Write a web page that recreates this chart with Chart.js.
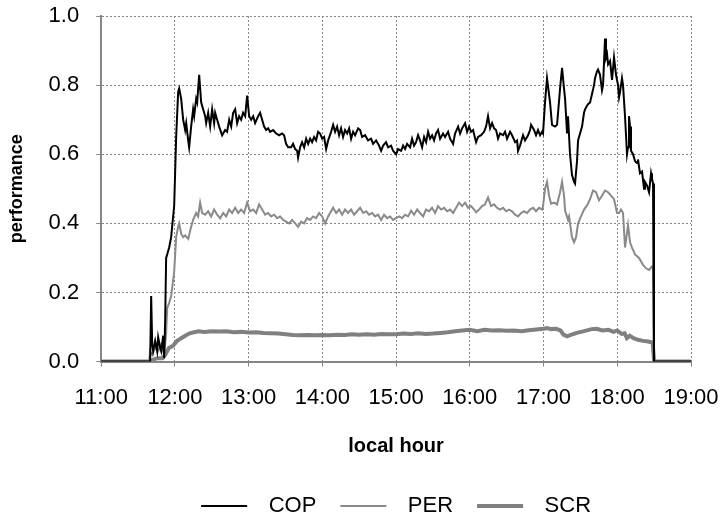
<!DOCTYPE html>
<html>
<head>
<meta charset="utf-8">
<script src="https://cdn.jsdelivr.net/npm/chart.js@4.4.1/dist/chart.umd.min.js"></script>
<style>
  html, body { margin: 0; padding: 0; background: #fff; }
  #wrap { width: 724px; height: 523px; }
</style>
</head>
<body>
<div id="wrap"><canvas id="perfChart"></canvas></div>
<script>
const copHours = [
  11.000, 11.651, 11.664, 11.678, 11.692, 11.705, 11.732, 11.759, 11.773, 11.800, 11.814, 11.841, 11.854, 11.868,
  11.881, 11.895, 11.922, 11.949, 11.976, 11.990, 12.017, 12.044, 12.058, 12.085, 12.112, 12.139, 12.153, 12.180,
  12.193, 12.220, 12.247, 12.261, 12.288, 12.302, 12.329, 12.356, 12.383, 12.410, 12.424, 12.451, 12.478, 12.505,
  12.532, 12.546, 12.573, 12.600, 12.641, 12.681, 12.708, 12.736, 12.763, 12.790, 12.817, 12.844, 12.871, 12.898,
  12.925, 12.953, 12.980, 13.007, 13.034, 13.061, 13.088, 13.129, 13.156, 13.183, 13.210, 13.237, 13.264, 13.292,
  13.332, 13.373, 13.414, 13.454, 13.481, 13.508, 13.536, 13.576, 13.603, 13.631, 13.658, 13.671, 13.698, 13.725,
  13.753, 13.780, 13.807, 13.834, 13.861, 13.888, 13.915, 13.942, 13.969, 13.997, 14.024, 14.051, 14.078, 14.119,
  14.146, 14.173, 14.200, 14.227, 14.254, 14.281, 14.308, 14.336, 14.363, 14.390, 14.417, 14.444, 14.485, 14.512,
  14.539, 14.580, 14.620, 14.661, 14.688, 14.729, 14.769, 14.797, 14.824, 14.864, 14.892, 14.932, 14.959, 15.000,
  15.027, 15.068, 15.095, 15.122, 15.149, 15.190, 15.217, 15.244, 15.271, 15.298, 15.325, 15.353, 15.380, 15.407,
  15.434, 15.461, 15.488, 15.515, 15.542, 15.569, 15.597, 15.637, 15.664, 15.705, 15.732, 15.773, 15.800, 15.841,
  15.868, 15.895, 15.936, 15.963, 15.990, 16.017, 16.044, 16.085, 16.112, 16.153, 16.193, 16.220, 16.247, 16.275,
  16.302, 16.329, 16.356, 16.383, 16.410, 16.451, 16.478, 16.505, 16.546, 16.573, 16.614, 16.641, 16.654, 16.681,
  16.722, 16.749, 16.790, 16.817, 16.831, 16.871, 16.898, 16.925, 16.953, 16.980, 16.993, 17.020, 17.047, 17.088,
  17.115, 17.156, 17.183, 17.197, 17.224, 17.251, 17.278, 17.292, 17.319, 17.332, 17.359, 17.386, 17.414, 17.427,
  17.454, 17.468, 17.495, 17.522, 17.549, 17.563, 17.590, 17.603, 17.631, 17.658, 17.685, 17.698, 17.725, 17.739,
  17.766, 17.793, 17.807, 17.834, 17.847, 17.861, 17.875, 17.902, 17.929, 17.956, 17.983, 18.010, 18.024, 18.037,
  18.064, 18.078, 18.105, 18.132, 18.146, 18.159, 18.173, 18.186, 18.214, 18.241, 18.268, 18.281, 18.308, 18.336,
  18.363, 18.376, 18.403, 18.431, 18.458, 18.471, 18.485, 18.498, 19.000
];
const copValues = [
  0, 0, 0.00, 0.19, 0.05, 0.03, 0.06, 0.03, 0.07, 0.04, 0.03, 0.075, 0.01, 0.12,
  0.30, 0.31, 0.33, 0.36, 0.42, 0.45, 0.65, 0.78, 0.79, 0.76, 0.70, 0.67, 0.69, 0.64,
  0.62, 0.68, 0.73, 0.71, 0.76, 0.75, 0.83, 0.75, 0.73, 0.71, 0.69, 0.72, 0.68, 0.73,
  0.69, 0.72, 0.70, 0.68, 0.655, 0.67, 0.665, 0.70, 0.68, 0.72, 0.73, 0.69, 0.71, 0.70,
  0.72, 0.71, 0.77, 0.71, 0.70, 0.71, 0.69, 0.71, 0.72, 0.70, 0.68, 0.67, 0.675, 0.665,
  0.67, 0.66, 0.655, 0.66, 0.655, 0.63, 0.62, 0.62, 0.63, 0.615, 0.61, 0.59, 0.62, 0.635,
  0.62, 0.645, 0.63, 0.645, 0.635, 0.65, 0.64, 0.665, 0.66, 0.645, 0.65, 0.615, 0.64, 0.665,
  0.685, 0.665, 0.68, 0.655, 0.675, 0.65, 0.67, 0.66, 0.675, 0.645, 0.665, 0.655, 0.675, 0.67,
  0.65, 0.655, 0.64, 0.645, 0.63, 0.64, 0.625, 0.61, 0.625, 0.635, 0.62, 0.625, 0.61, 0.60,
  0.615, 0.61, 0.625, 0.615, 0.63, 0.62, 0.645, 0.625, 0.635, 0.655, 0.64, 0.62, 0.65, 0.635,
  0.665, 0.645, 0.655, 0.64, 0.66, 0.67, 0.645, 0.66, 0.65, 0.665, 0.645, 0.63, 0.66, 0.68,
  0.66, 0.675, 0.69, 0.665, 0.68, 0.665, 0.67, 0.635, 0.65, 0.655, 0.665, 0.68, 0.71, 0.675,
  0.69, 0.675, 0.67, 0.645, 0.66, 0.655, 0.665, 0.645, 0.665, 0.655, 0.635, 0.64, 0.61, 0.625,
  0.655, 0.64, 0.655, 0.67, 0.685, 0.67, 0.655, 0.67, 0.655, 0.665, 0.66, 0.75, 0.82, 0.75,
  0.685, 0.68, 0.685, 0.72, 0.79, 0.85, 0.79, 0.76, 0.66, 0.71, 0.60, 0.54, 0.52, 0.515,
  0.58, 0.64, 0.66, 0.68, 0.72, 0.73, 0.74, 0.745, 0.75, 0.775, 0.80, 0.82, 0.84, 0.845,
  0.83, 0.785, 0.80, 0.935, 0.88, 0.89, 0.86, 0.87, 0.815, 0.88, 0.83, 0.80, 0.765, 0.78,
  0.82, 0.80, 0.71, 0.60, 0.62, 0.71, 0.68, 0.61, 0.60, 0.58, 0.575, 0.585, 0.545, 0.55,
  0.50, 0.52, 0.51, 0.49, 0.545, 0.53, 0.515, 0, 0
];

const perHours = [
  11.000, 11.651, 11.664, 11.692, 11.732, 11.773, 11.814, 11.854, 11.881, 11.895, 11.922, 11.949, 11.976, 11.990,
  12.017, 12.044, 12.058, 12.085, 12.112, 12.139, 12.180, 12.220, 12.247, 12.288, 12.315, 12.342, 12.370, 12.410,
  12.451, 12.492, 12.532, 12.573, 12.614, 12.654, 12.695, 12.736, 12.776, 12.817, 12.858, 12.898, 12.939, 12.980,
  13.020, 13.061, 13.102, 13.142, 13.183, 13.224, 13.264, 13.305, 13.346, 13.386, 13.427, 13.468, 13.508, 13.549,
  13.590, 13.631, 13.671, 13.712, 13.753, 13.793, 13.834, 13.875, 13.915, 13.956, 13.997, 14.038, 14.078, 14.119,
  14.146, 14.187, 14.227, 14.268, 14.308, 14.349, 14.390, 14.430, 14.471, 14.512, 14.553, 14.593, 14.634, 14.675,
  14.715, 14.756, 14.797, 14.837, 14.878, 14.919, 14.959, 15.000, 15.041, 15.081, 15.122, 15.163, 15.203, 15.244,
  15.285, 15.325, 15.366, 15.407, 15.447, 15.488, 15.529, 15.569, 15.610, 15.651, 15.692, 15.732, 15.773, 15.814,
  15.854, 15.895, 15.936, 15.976, 16.017, 16.058, 16.085, 16.125, 16.166, 16.207, 16.247, 16.288, 16.329, 16.369,
  16.410, 16.451, 16.492, 16.532, 16.573, 16.614, 16.654, 16.695, 16.736, 16.776, 16.817, 16.858, 16.898, 16.939,
  16.980, 16.993, 17.020, 17.047, 17.075, 17.102, 17.142, 17.183, 17.224, 17.251, 17.278, 17.292, 17.332, 17.346,
  17.386, 17.414, 17.441, 17.468, 17.508, 17.549, 17.590, 17.631, 17.671, 17.712, 17.752, 17.793, 17.834, 17.875,
  17.915, 17.956, 17.997, 18.024, 18.051, 18.078, 18.105, 18.146, 18.173, 18.200, 18.241, 18.295, 18.349, 18.390,
  18.431, 18.471, 18.485, 18.498, 19.000
];
const perValues = [
  0, 0, 0.03, 0.02, 0.04, 0.03, 0.05, 0.02, 0.08, 0.155, 0.17, 0.19, 0.235, 0.26,
  0.36, 0.39, 0.40, 0.37, 0.36, 0.365, 0.355, 0.39, 0.41, 0.43, 0.42, 0.46, 0.43, 0.425,
  0.435, 0.42, 0.44, 0.425, 0.415, 0.43, 0.42, 0.44, 0.43, 0.445, 0.43, 0.44, 0.43, 0.46,
  0.435, 0.44, 0.43, 0.455, 0.44, 0.425, 0.43, 0.42, 0.425, 0.415, 0.42, 0.41, 0.405, 0.40,
  0.41, 0.40, 0.39, 0.405, 0.40, 0.415, 0.41, 0.42, 0.415, 0.43, 0.42, 0.40, 0.42, 0.435,
  0.445, 0.43, 0.44, 0.425, 0.44, 0.43, 0.44, 0.425, 0.435, 0.445, 0.43, 0.435, 0.425, 0.43,
  0.42, 0.425, 0.41, 0.425, 0.415, 0.42, 0.41, 0.415, 0.42, 0.415, 0.425, 0.42, 0.437, 0.425,
  0.44, 0.43, 0.42, 0.44, 0.435, 0.445, 0.43, 0.45, 0.44, 0.445, 0.435, 0.44, 0.43, 0.445,
  0.46, 0.45, 0.46, 0.445, 0.45, 0.44, 0.432, 0.44, 0.45, 0.455, 0.475, 0.45, 0.455, 0.445,
  0.44, 0.445, 0.435, 0.44, 0.435, 0.425, 0.42, 0.43, 0.435, 0.43, 0.44, 0.445, 0.435, 0.445,
  0.44, 0.45, 0.50, 0.52, 0.48, 0.457, 0.46, 0.455, 0.49, 0.52, 0.48, 0.437, 0.41, 0.42,
  0.36, 0.345, 0.36, 0.40, 0.42, 0.44, 0.452, 0.47, 0.495, 0.49, 0.467, 0.48, 0.495, 0.49,
  0.48, 0.47, 0.43, 0.43, 0.44, 0.43, 0.33, 0.395, 0.345, 0.33, 0.31, 0.30, 0.28, 0.27,
  0.265, 0.275, 0.27, 0, 0
];

const scrHours = [
  11.00, 11.651, 11.70, 11.76, 11.83, 11.87, 11.92, 11.97, 12.03, 12.08, 12.14, 12.20, 12.26, 12.32,
  12.40, 12.50, 12.60, 12.70, 12.80, 12.90, 13.00, 13.10, 13.20, 13.30, 13.40, 13.50, 13.60, 13.70,
  13.80, 13.90, 14.00, 14.10, 14.20, 14.30, 14.40, 14.50, 14.60, 14.70, 14.80, 14.90, 15.00, 15.10,
  15.20, 15.30, 15.40, 15.50, 15.60, 15.70, 15.80, 15.90, 16.00, 16.10, 16.20, 16.30, 16.40, 16.50,
  16.60, 16.70, 16.80, 16.90, 17.00, 17.05, 17.10, 17.17, 17.23, 17.27, 17.32, 17.37, 17.45, 17.55,
  17.65, 17.72, 17.80, 17.88, 17.95, 18.00, 18.03, 18.06, 18.10, 18.13, 18.17, 18.22, 18.28, 18.35,
  18.42, 18.48, 18.50, 19.00
];
const scrValues = [
  0, 0, 0.005, 0.01, 0.01, 0.02, 0.04, 0.045, 0.06, 0.067, 0.075, 0.082, 0.085, 0.088,
  0.086, 0.088, 0.087, 0.088, 0.085, 0.086, 0.084, 0.085, 0.083, 0.082, 0.081, 0.079, 0.077, 0.076,
  0.077, 0.076, 0.077, 0.076, 0.078, 0.077, 0.079, 0.078, 0.079, 0.078, 0.080, 0.079, 0.079, 0.081,
  0.080, 0.082, 0.080, 0.081, 0.083, 0.085, 0.088, 0.090, 0.092, 0.088, 0.092, 0.090, 0.091, 0.089,
  0.090, 0.088, 0.091, 0.093, 0.095, 0.097, 0.094, 0.095, 0.090, 0.078, 0.073, 0.077, 0.083, 0.088,
  0.094, 0.095, 0.090, 0.092, 0.086, 0.090, 0.085, 0.080, 0.082, 0.068, 0.075, 0.068, 0.063, 0.060,
  0.058, 0.055, 0, 0
];

const yTicks = [0, 0.2, 0.4, 0.6, 0.8, 1.0];

const FONT = "'Liberation Sans', Arial, sans-serif";
const AXIS_GRAY = '#868686';

const toPoints = (xs, ys) => xs.map((x, i) => ({ x: x, y: ys[i] }));

// let layout.padding alone decide the outer margins (no extra room for overhanging tick labels)
const noOverhang = scale => {
  scale.paddingTop = 0;
  scale.paddingBottom = 0;
  scale.paddingLeft = 0;
  scale.paddingRight = 0;
};

new Chart(document.getElementById('perfChart'), {
  type: 'line',
  data: {
    datasets: [
      { label: 'COP', data: toPoints(copHours, copValues), borderColor: '#000000', backgroundColor: '#000000', borderWidth: 2 },
      { label: 'PER', data: toPoints(perHours, perValues), borderColor: '#8a8a8a', backgroundColor: '#8a8a8a', borderWidth: 2 },
      { label: 'SCR', data: toPoints(scrHours, scrValues), borderColor: '#808080', backgroundColor: '#808080', borderWidth: 4 }
    ]
  },
  options: {
    responsive: true,
    maintainAspectRatio: false,
    animation: false,
    elements: { point: { radius: 0 }, line: { tension: 0 } },
    layout: { padding: { left: 6, right: 33, top: 16, bottom: -4 } },
    plugins: {
      tooltip: { enabled: false },
      legend: {
        position: 'bottom',
        fullSize: false,
        labels: {
          usePointStyle: true,
          pointStyle: 'line',
          pointStyleWidth: 46,
          color: '#000',
          padding: 24,
          font: { family: FONT, size: 22 },
          // a little extra room between the line sample and its text, as in the original
          generateLabels: chart => Chart.defaults.plugins.legend.labels.generateLabels(chart)
            .map(item => Object.assign(item, { text: ' \u2009' + item.text }))
        }
      }
    },
    scales: {
      x: {
        type: 'linear',
        min: 11,
        max: 19,
        afterFit: noOverhang,
        ticks: {
          stepSize: 1,
          color: '#000',
          padding: 18,
          maxRotation: 0,
          font: { family: FONT, size: 22 },
          callback: v => v + ':00'
        },
        grid: { color: AXIS_GRAY, lineWidth: 1, tickLength: 5, tickColor: AXIS_GRAY, tickBorderDash: [] },
        border: { display: true, color: AXIS_GRAY, width: 2, dash: [2, 2] },
        title: {
          display: true,
          text: 'local hour',
          color: '#000',
          font: { family: FONT, size: 20, weight: 'bold' },
          padding: { top: 5, bottom: 13 }
        }
      },
      y: {
        min: 0,
        max: 1,
        afterFit: noOverhang,
        afterBuildTicks: scale => { scale.ticks = yTicks.map(v => ({ value: v })); },
        ticks: {
          color: '#000',
          padding: 17,
          font: { family: FONT, size: 22 },
          callback: v => v.toFixed(1)
        },
        grid: { color: AXIS_GRAY, lineWidth: 1, tickLength: 5, tickColor: AXIS_GRAY, tickBorderDash: [] },
        border: { display: true, color: AXIS_GRAY, width: 2, dash: [2, 2] },
        title: {
          display: true,
          text: 'performance',
          color: '#000',
          font: { family: FONT, size: 18, weight: 'bold' },
          padding: { top: 0, bottom: 4 }
        }
      }
    }
  }
});
</script>
</body>
</html>
